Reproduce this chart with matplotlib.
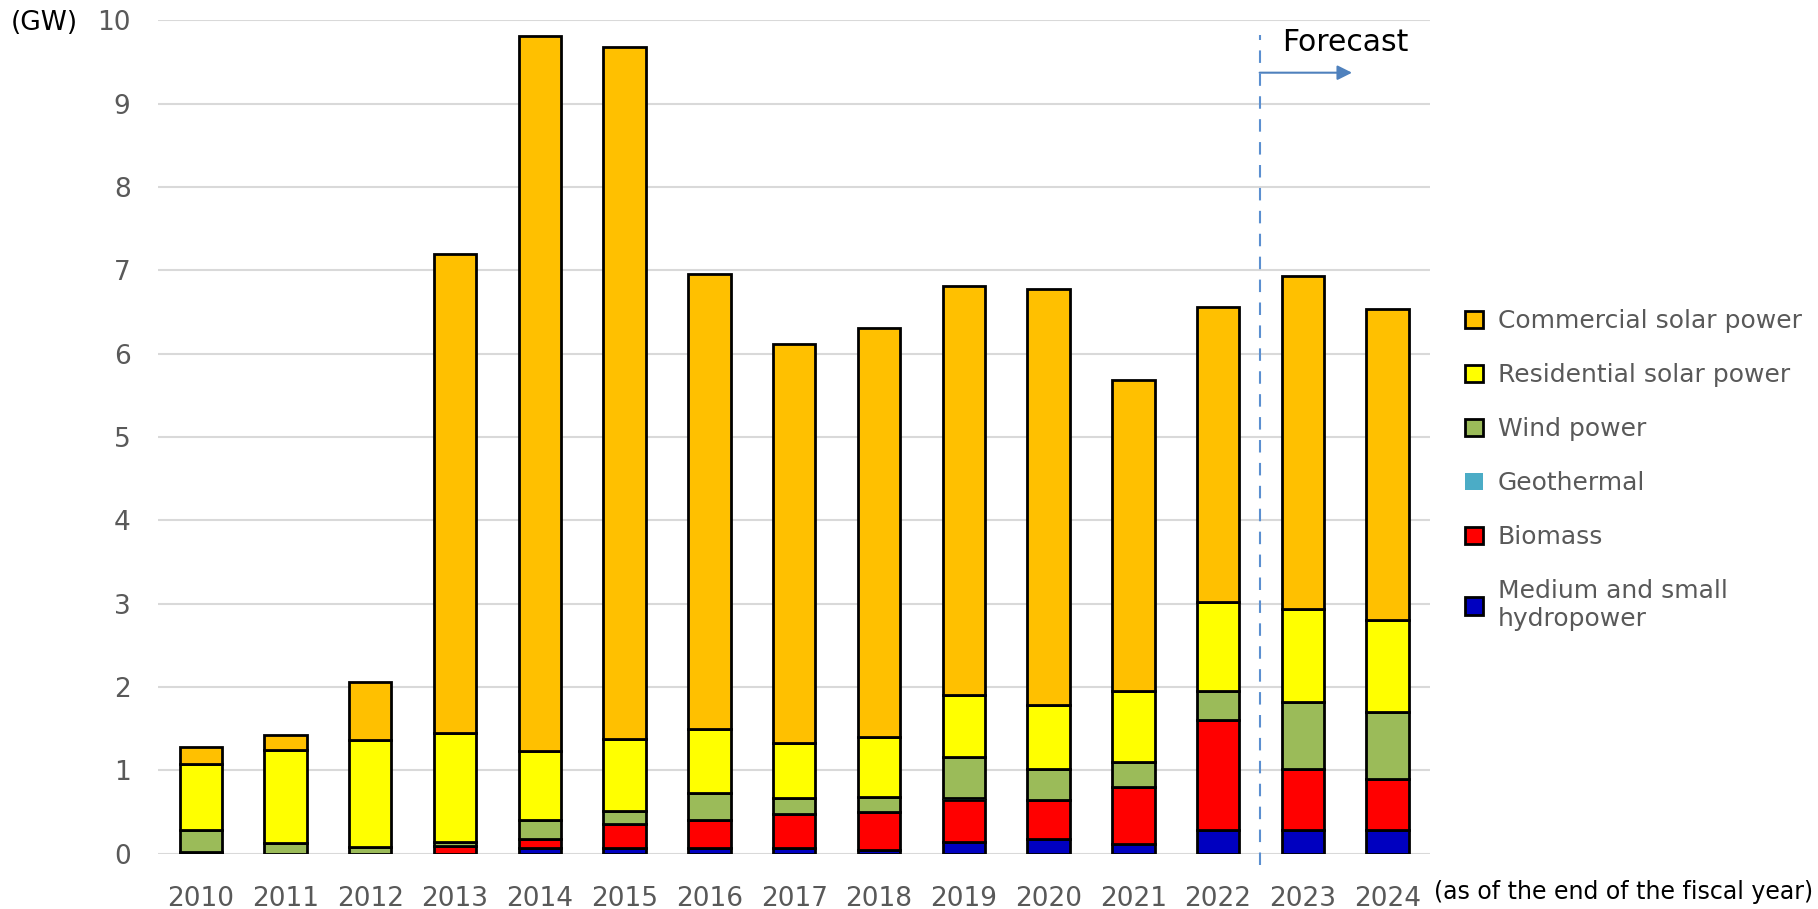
import matplotlib.pyplot as plt
import numpy as np

years = ["2010", "2011", "2012", "2013", "2014", "2015", "2016", "2017",
         "2018", "2019", "2020", "2021", "2022", "2023", "2024"]

# GW, stacked bottom to top
hydro = [0.0, 0.0, 0.0, 0.0, 0.07, 0.065, 0.07, 0.07, 0.045, 0.145, 0.18, 0.12, 0.28, 0.28, 0.28]
biomass = [0.02, 0.0, 0.0, 0.09, 0.11, 0.295, 0.34, 0.41, 0.455, 0.495, 0.467, 0.68, 1.32, 0.74, 0.615]
geothermal = [0.0, 0.0, 0.0, 0.0, 0.0, 0.0, 0.0, 0.0, 0.0, 0.025, 0.0, 0.0, 0.0, 0.0, 0.0]
wind = [0.27, 0.125, 0.085, 0.055, 0.225, 0.155, 0.32, 0.185, 0.18, 0.49, 0.373, 0.295, 0.35, 0.80, 0.80]
residential = [0.79, 1.115, 1.275, 1.305, 0.825, 0.86, 0.77, 0.66, 0.725, 0.755, 0.76, 0.86, 1.07, 1.115, 1.11]
commercial = [0.20, 0.18, 0.70, 5.74, 8.575, 8.30, 5.45, 4.785, 4.905, 4.895, 4.99, 3.73, 3.545, 3.99, 3.73]

series = [
    ("Medium and small\nhydropower", hydro, "#0000C0", True),
    ("Biomass", biomass, "#FF0000", True),
    ("Geothermal", geothermal, "#4BACC6", False),
    ("Wind power", wind, "#9BBB59", True),
    ("Residential solar power", residential, "#FFFF00", True),
    ("Commercial solar power", commercial, "#FFC000", True),
]

fig = plt.figure(figsize=(18.18, 9.09), dpi=100)
ax = fig.add_axes([0.0871, 0.0608, 0.6995, 0.917])

x = np.arange(len(years))
bottom = np.zeros(len(years))
handles = []
for label, vals, color, edged in series:
    vals = np.array(vals)
    if edged:
        b = ax.bar(x, vals, 0.5, bottom=bottom, color=color, edgecolor="black",
                   linewidth=2, label=label, zorder=3)
    else:
        b = ax.bar(x, vals, 0.5, bottom=bottom, color=color, edgecolor="none",
                   label=label, zorder=3)
    handles.append(b)
    bottom = bottom + vals

ax.set_xlim(-0.5, len(years) - 0.5)
ax.set_ylim(0, 10)
ax.set_yticks(range(0, 11))
ax.set_xticks(x)
ax.set_xticklabels(years)
ax.grid(axis="y", color="#D9D9D9", linewidth=1.5, zorder=0)
for s in ax.spines.values():
    s.set_visible(False)
ax.tick_params(length=0, labelsize=19, colors="#595959")
ax.tick_params(axis="x", pad=23)
ax.tick_params(axis="y", pad=20)

# forecast marker
ax.plot([12.5, 12.5], [-0.13, 9.82], color="#5B8FD0", linestyle=(0, (6, 5)),
        linewidth=1.5, clip_on=False, zorder=4)
ax.annotate("", xy=(13.58, 9.37), xytext=(12.49, 9.37),
            arrowprops=dict(arrowstyle="-|>", color="#4F81BD", lw=1.5,
                            mutation_scale=22, shrinkA=0, shrinkB=0))
ax.text(13.5, 9.73, "Forecast", fontsize=21.5, ha="center", va="center", color="black")

fig.text(0.006, 0.975, "(GW)", fontsize=19, ha="left", va="center", color="black")
fig.text(0.789, 0.019, "(as of the end of the fiscal year)", fontsize=17,
         ha="left", va="center", color="black")

leg = ax.legend(handles[::-1], [s[0] for s in series][::-1], loc="center left",
                bbox_to_anchor=(1.01, 0.46), frameon=False, fontsize=18,
                labelcolor="#595959", handlelength=0.7, handleheight=0.7,
                handletextpad=0.6, labelspacing=1.2)

plt.savefig("out.png", dpi=100)
